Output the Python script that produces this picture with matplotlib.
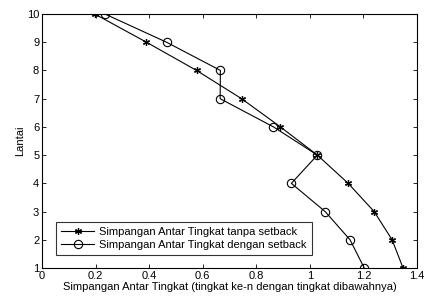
import matplotlib
matplotlib.use("Agg")
import matplotlib.pyplot as plt

lantai = [10, 9, 8, 7, 6, 5, 4, 3, 2, 1]
tanpa_setback = [0.197, 0.39, 0.577, 0.745, 0.89, 1.028, 1.143, 1.24, 1.307, 1.348]
dengan_setback = [0.235, 0.465, 0.666, 0.665, 0.864, 1.028, 0.931, 1.057, 1.150, 1.203]
xticks = [0, 0.2, 0.4, 0.6, 0.8, 1, 1.2, 1.4]
xticklabels = ["0", "0.2", "0.4", "0.6", "0.8", "1", "1.2", "1.4"]
yticks = [1, 2, 3, 4, 5, 6, 7, 8, 9, 10]

plt.rcParams['font.family'] = ['Liberation Sans', 'DejaVu Sans']
fig = plt.figure(figsize=(4.26, 2.96), dpi=100)
ax = fig.add_axes([42/426, 1-268/296, (417-42)/426, (268-14)/296])

ax.plot(tanpa_setback, lantai, color='black', lw=0.8, marker=(6, 2, 0), ms=5, mew=0.9,
        label='Simpangan Antar Tingkat tanpa setback')
ax.plot(dengan_setback, lantai, color='black', lw=0.8, marker='o', ms=6, mfc='none', mew=0.8,
        label='Simpangan Antar Tingkat dengan setback')

ax.set_xlim(0, 1.4)
ax.set_ylim(1, 10)
ax.set_xticks(xticks)
ax.set_xticklabels(xticklabels)
ax.set_yticks(yticks)
ax.tick_params(direction='in', top=True, right=True, labelsize=8, length=3, width=0.6, pad=2)
for s in ax.spines.values():
    s.set_linewidth(0.8)
ax.set_xlabel('Simpangan Antar Tingkat (tingkat ke-n dengan tingkat dibawahnya)', fontsize=8, labelpad=1)
ax.set_ylabel('Lantai', fontsize=8, labelpad=1)

leg = ax.legend(loc='lower left', bbox_to_anchor=(14/375, 13/254), fontsize=8, frameon=True,
                fancybox=False, edgecolor='black', borderpad=0.45, handlelength=3,
                handletextpad=0.45, labelspacing=0.3, borderaxespad=0)
leg.get_frame().set_linewidth(0.8)

fig.savefig('out.png', dpi=100)
